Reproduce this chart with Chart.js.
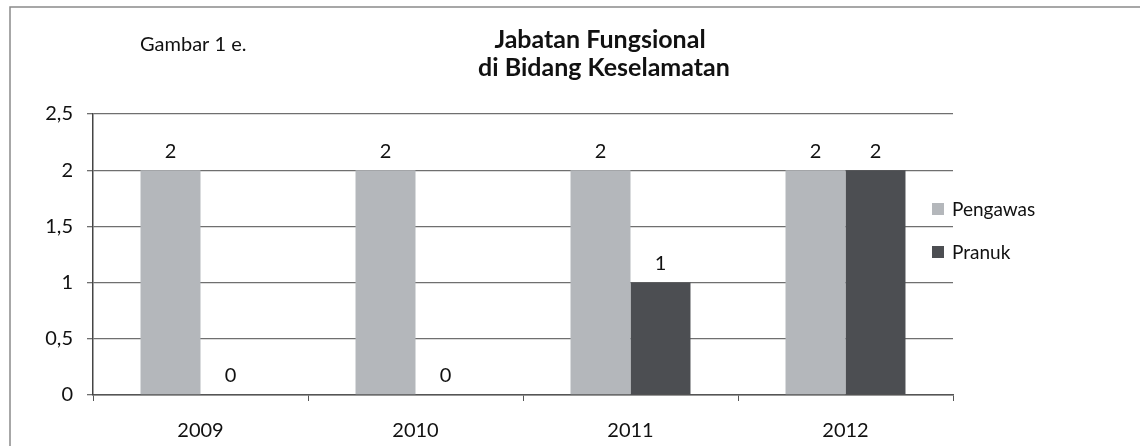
<!DOCTYPE html>
<html>
<head>
<meta charset="utf-8">
<script src="https://cdn.jsdelivr.net/npm/chart.js@4"></script>
<style>
  html, body { margin: 0; padding: 0; background: #fff; }
  #wrap { position: relative; width: 1140px; height: 446px; }
</style>
</head>
<body>
<div id="wrap"><canvas id="chart-canvas"></canvas></div>
<script>
// data
var years = ['2009', '2010', '2011', '2012'];
var pengawas = [2, 2, 2, 2];
var pranuk = [0, 0, 1, 2];
var yTicks = [0, 0.5, 1, 1.5, 2, 2.5];

var FONT = 'Lato, "Open Sans", sans-serif';

Chart.defaults.font.family = FONT;
Chart.defaults.color = '#111';

// frame, title, legend and the numbers over the bars
var decor = {
    id: 'decor',
    afterDatasetsDraw: function(chart) {
        var ctx = chart.ctx;
        ctx.save();
        ctx.font = '20px ' + FONT;
        ctx.fillStyle = '#111';
        ctx.textAlign = 'center';
        ctx.textBaseline = 'middle';
        chart.data.datasets.forEach(function(ds, i) {
            chart.getDatasetMeta(i).data.forEach(function(bar, j) {
                ctx.fillText(String(ds.data[j]), bar.x, bar.y - 19);
            });
        });
        ctx.restore();
    },
    afterDraw: function(chart) {
        var ctx = chart.ctx;
        ctx.save();
        // scanned page frame
        ctx.strokeStyle = '#8a8a8a';
        ctx.lineWidth = 1.5;
        ctx.beginPath();
        ctx.moveTo(10, 446);
        ctx.lineTo(10, 7);
        ctx.lineTo(1140, 7);
        ctx.stroke();

        ctx.fillStyle = '#111';
        ctx.textBaseline = 'middle';
        ctx.textAlign = 'left';
        ctx.font = '20px ' + FONT;
        ctx.fillText('Gambar 1 e.', 140, 45);

        ctx.textAlign = 'center';
        ctx.font = 'bold 25px ' + FONT;
        ctx.fillText('Jabatan Fungsional', 600, 40);
        ctx.fillText('di Bidang Keselamatan', 604, 68);

        // legend
        ctx.textAlign = 'left';
        ctx.font = '19px ' + FONT;
        chart.data.datasets.forEach(function(ds, i) {
            var y = 209 + i * 43;
            ctx.fillStyle = ds.backgroundColor;
            ctx.fillRect(932, y - 6, 12, 12);
            ctx.fillStyle = '#111';
            ctx.fillText(ds.label, 952, y + 1);
        });
        ctx.restore();
    }
};

new Chart(document.getElementById('chart-canvas'), {
    type: 'bar',
    data: {
        labels: years,
        datasets: [
            { label: 'Pengawas', data: pengawas, backgroundColor: '#b4b7bb' },
            { label: 'Pranuk', data: pranuk, backgroundColor: '#4c4e52' }
        ]
    },
    options: {
        responsive: true,
        maintainAspectRatio: false,
        animation: false,
        categoryPercentage: 0.558,
        barPercentage: 1.0,
        layout: { padding: { top: 114, right: 187, left: 0, bottom: 0 } },
        plugins: {
            legend: { display: false },
            title: { display: false },
            tooltip: { enabled: false }
        },
        scales: {
            x: {
                afterFit: function(scale) { scale.height = 51; },
                grid: {
                    offset: true,
                    drawOnChartArea: false,
                    drawTicks: true,
                    tickLength: 6,
                    color: '#555'
                },
                border: { display: true, color: '#555', width: 1.5 },
                ticks: { padding: 18, font: { size: 20 }, color: '#111' }
            },
            y: {
                min: 0,
                max: 2.5,
                afterFit: function(scale) { scale.width = 93; },
                afterBuildTicks: function(scale) {
                    scale.ticks = yTicks.map(function(v) { return { value: v }; });
                },
                grid: { color: '#6f6f6f', lineWidth: 1.3, tickLength: 6 },
                border: { display: true, color: '#444', width: 1.5 },
                ticks: {
                    padding: 14,
                    font: { size: 20 },
                    color: '#111',
                    callback: function(v) { return String(v).replace('.', ','); }
                }
            }
        }
    },
    plugins: [decor]
});
</script>
</body>
</html>
